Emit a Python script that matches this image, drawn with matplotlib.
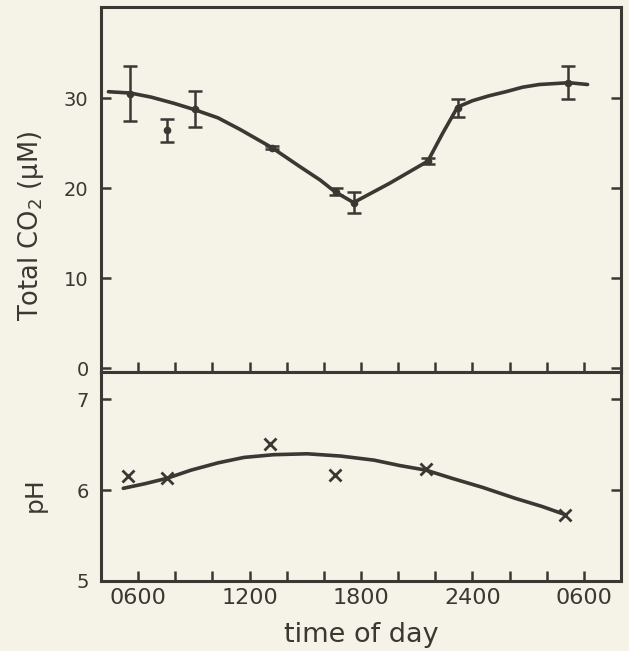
import matplotlib
matplotlib.use("Agg")
import matplotlib.pyplot as plt

# ---- data (hours since midnight of day 1; 24 = midnight, 30 = 0600 next day) ----
co2_t = [5.55, 7.55, 9.05, 13.2, 16.65, 17.65, 21.6, 23.2, 29.15]
co2_v = [30.5, 26.4, 28.8, 24.5, 19.6, 18.4, 23.0, 28.9, 31.7]
co2_err = [3.1, 1.3, 2.0, 0.2, 0.4, 1.2, 0.3, 1.0, 1.85]

co2_curve_t = [4.4, 5.6, 6.7, 7.95, 9.05, 10.3, 11.5, 13.2, 14.7, 15.8, 16.6, 17.6,
               19.55, 21.6, 22.4, 23.2, 24.0, 24.9, 25.8, 26.7, 27.6, 29.2, 30.2]
co2_curve_v = [30.7, 30.55, 30.1, 29.4, 28.7, 27.8, 26.5, 24.5, 22.4, 20.9, 19.6, 18.4,
               20.55, 23.0, 26.1, 29.0, 29.7, 30.25, 30.7, 31.2, 31.5, 31.7, 31.5]

ph_t = [5.45, 7.55, 13.1, 16.6, 21.5, 29.0]
ph_v = [6.15, 6.13, 6.51, 6.17, 6.23, 5.73]

ph_curve_t = [5.2, 6.35, 7.55, 8.85, 10.3, 11.7, 13.3, 15.1, 16.9, 18.7, 20.1, 21.5,
              22.9, 24.55, 26.3, 27.75, 29.0]
ph_curve_v = [6.02, 6.07, 6.13, 6.22, 6.30, 6.36, 6.39, 6.40, 6.375, 6.33, 6.27, 6.22,
              6.13, 6.03, 5.91, 5.82, 5.73]

x_ticks = [6, 8, 10, 12, 14, 16, 18, 20, 22, 24, 26, 28, 30]
x_label_pos = [6, 12, 18, 24, 30]
x_label_txt = ["0600", "1200", "1800", "2400", "0600"]

co2_ticks = [0, 10, 20, 30]
ph_ticks = [5, 6, 7]

# ---- style ----
bg = "#f5f2e8"
ink = "#3b3733"
plt.rcParams["font.family"] = ["DejaVu Sans"]

fig = plt.figure(figsize=(6.29, 6.51), dpi=100, facecolor=bg)
W, H = 629, 651
left, right = 101 / W, 621 / W
ax1 = fig.add_axes([left, 1 - 372 / H, right - left, (372 - 7) / H])
ax2 = fig.add_axes([left, 1 - 581 / H, right - left, (581 - 372) / H])

for ax in (ax1, ax2):
    ax.set_facecolor(bg)
    for s in ax.spines.values():
        s.set_color(ink)
        s.set_linewidth(2.2)
    ax.set_xlim(4, 32)
    ax.set_xticks(x_ticks)
    ax.tick_params(axis="both", direction="in", length=7.5, width=1.8,
                   color=ink, labelcolor=ink)
    ax.tick_params(axis="x", top=False, bottom=True)
    ax.tick_params(axis="y", left=True, right=True, labelsize=14, pad=9)

# top panel
ax1.errorbar(co2_t, co2_v, yerr=co2_err, fmt="o", color=ink, ms=4.5,
             elinewidth=1.8, capsize=5, capthick=1.8, zorder=3)
ax1.plot(co2_curve_t, co2_curve_v, color=ink, lw=2.6, solid_joinstyle="round",
         solid_capstyle="round", zorder=2)
ax1.set_ylim(-0.4, 40.1)
ax1.set_yticks(co2_ticks)
ax1.set_xticklabels([])

# bottom panel
ax2.plot(ph_t, ph_v, "x", color=ink, ms=8.5, mew=2.0, zorder=3)
ax2.plot(ph_curve_t, ph_curve_v, color=ink, lw=2.6, solid_joinstyle="round",
         solid_capstyle="round", zorder=2)
ax2.set_ylim(5.0, 7.3)
ax2.set_yticks(ph_ticks)
ax2.set_xticks(x_ticks)
ax2.set_xticklabels([x_label_txt[x_label_pos.index(t)] if t in x_label_pos else "" for t in x_ticks],
                    fontsize=16)
ax2.tick_params(axis="x", pad=5)

fig.text(31 / W, 1 - 226 / H, "Total CO$_2$ (μM)", rotation=90, ha="center", va="center",
         fontsize=18.5, color=ink)
fig.text(35 / W, 1 - 495 / H, "pH", rotation=90, ha="center", va="center",
         fontsize=18, color=ink)
fig.text(361 / W, 1 - 635 / H, "time of day", ha="center", va="center",
         fontsize=19.5, color=ink)

fig.savefig("out.png", dpi=100, facecolor=bg)
